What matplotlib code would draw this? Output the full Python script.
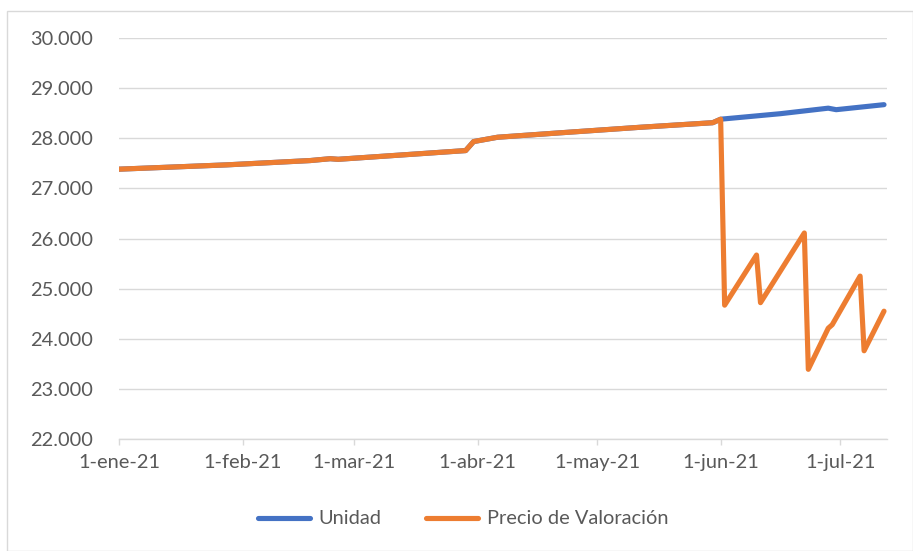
import matplotlib
matplotlib.use("Agg")
import matplotlib.pyplot as plt
from matplotlib.patches import Rectangle
import datetime as dt

plt.rcParams['font.family'] = ['Lato', 'DejaVu Sans']

# Data
unidad_dates = ["2021-01-01", "2021-01-28", "2021-02-18", "2021-02-23", "2021-02-25",
                "2021-03-29", "2021-03-31", "2021-04-06", "2021-04-22", "2021-05-12",
                "2021-05-30", "2021-06-01", "2021-06-16", "2021-06-28", "2021-06-30",
                "2021-07-12"]
unidad_values = [27.383, 27.469, 27.555, 27.592, 27.580,
                 27.754, 27.934, 28.020, 28.110, 28.220,
                 28.310, 28.380, 28.490, 28.600, 28.570,
                 28.670]

precio_dates = ["2021-01-01", "2021-01-28", "2021-02-18", "2021-02-23", "2021-02-25",
                "2021-03-29", "2021-03-31", "2021-04-06", "2021-04-22", "2021-05-12",
                "2021-05-30", "2021-06-01", "2021-06-02", "2021-06-10", "2021-06-11",
                "2021-06-22", "2021-06-23", "2021-06-28", "2021-06-29", "2021-07-06",
                "2021-07-07", "2021-07-12"]
precio_values = [27.383, 27.469, 27.555, 27.592, 27.580,
                 27.754, 27.934, 28.020, 28.110, 28.220,
                 28.310, 28.380, 24.670, 25.670, 24.720,
                 26.110, 23.390, 24.210, 24.280, 25.250,
                 23.760, 24.550]

tick_dates = ["2021-01-01", "2021-02-01", "2021-03-01", "2021-04-01",
              "2021-05-01", "2021-06-01", "2021-07-01"]
tick_labels = ["1-ene-21", "1-feb-21", "1-mar-21", "1-abr-21",
               "1-may-21", "1-jun-21", "1-jul-21"]
y_ticks = [22, 23, 24, 25, 26, 27, 28, 29, 30]
y_labels = ["22.000", "23.000", "24.000", "25.000", "26.000",
            "27.000", "28.000", "29.000", "30.000"]

def to_dt(lst):
    return [dt.datetime.strptime(s, "%Y-%m-%d") for s in lst]

W, H = 913, 551
fig = plt.figure(figsize=(W / 100, H / 100), dpi=100)
ax = fig.add_axes([119 / W, 1 - 439 / H, (887 - 119) / W, (439 - 38) / H])

blue = "#4472C4"
orange = "#ED7D31"
ax.plot(to_dt(unidad_dates), unidad_values, color=blue, lw=3.7,
        solid_capstyle='round', solid_joinstyle='round', label="Unidad")
ax.plot(to_dt(precio_dates), precio_values, color=orange, lw=3.7,
        solid_capstyle='round', solid_joinstyle='round', label="Precio de Valoración")

ax.set_ylim(22, 30)
ax.set_xlim(dt.datetime(2021, 1, 1), dt.datetime(2021, 7, 12, 18))
ax.set_yticks(y_ticks)
ax.set_yticklabels(y_labels)
ax.set_xticks(to_dt(tick_dates))
ax.set_xticklabels(tick_labels)

ax.grid(axis='y', color="#D9D9D9", lw=1.0)
ax.set_axisbelow(True)
for s in ['top', 'right', 'left']:
    ax.spines[s].set_visible(False)
ax.spines['bottom'].set_color("#D9D9D9")
ax.spines['bottom'].set_linewidth(1.0)
ax.tick_params(axis='y', length=0, pad=19, labelsize=14.4, labelcolor="#595959")
ax.tick_params(axis='x', length=4, width=1.0, color="#D9D9D9", pad=7,
               labelsize=14.4, labelcolor="#595959")

leg = fig.legend(loc='center', bbox_to_anchor=(463 / W, 1 - 519 / H), ncol=2,
                 frameon=False, fontsize=14.4, handlelength=2.6,
                 columnspacing=2.2, handletextpad=0.45, labelcolor="#595959")

fig.patches.append(Rectangle((7 / W, 0), 1 - 7 / W - 0.5 / W, 1 - 11 / H,
                             transform=fig.transFigure, fill=False,
                             edgecolor="#D9D9D9", lw=1.0))

fig.savefig("out.png", dpi=100, facecolor="white")
